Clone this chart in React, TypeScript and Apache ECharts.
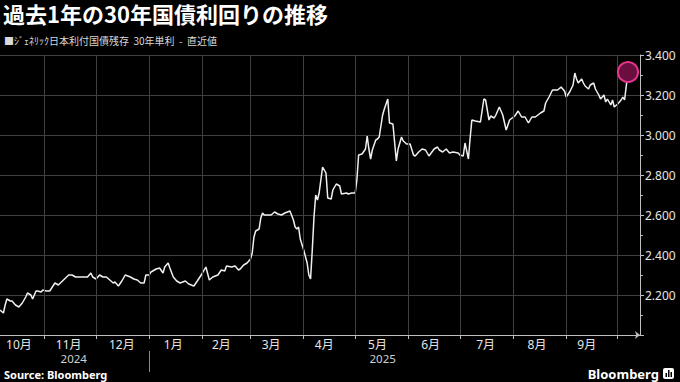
import React, { useEffect, useRef } from 'react';
import * as echarts from 'echarts';

const TITLE = '過去1年の30年国債利回りの推移';
const SUBTITLE = '■ｼﾞｪﾈﾘｯｸ日本利付国債残存  30年単利  -  直近値';
const SOURCE = 'Source: Bloomberg';

const dates = [
  '2024-10-06','2024-10-08','2024-10-09','2024-10-10','2024-10-12','2024-10-13','2024-10-15','2024-10-17','2024-10-19','2024-10-21',
  '2024-10-22','2024-10-24','2024-10-25','2024-10-27','2024-10-28','2024-10-30','2024-10-31','2024-11-02','2024-11-04','2024-11-07',
  '2024-11-09','2024-11-12','2024-11-15','2024-11-17','2024-11-19','2024-11-22','2024-11-25','2024-11-26','2024-11-28','2024-11-29',
  '2024-12-01','2024-12-03','2024-12-05','2024-12-07','2024-12-09','2024-12-11','2024-12-12','2024-12-14','2024-12-16','2024-12-18',
  '2024-12-21','2024-12-23','2024-12-25','2024-12-27','2024-12-29','2024-12-30','2025-01-01','2025-01-02','2025-01-05','2025-01-07',
  '2025-01-09','2025-01-10','2025-01-12','2025-01-13','2025-01-15','2025-01-17','2025-01-19','2025-01-22','2025-01-24','2025-01-27',
  '2025-01-29','2025-02-01','2025-02-03','2025-02-05','2025-02-07','2025-02-10','2025-02-12','2025-02-14','2025-02-15','2025-02-18',
  '2025-02-20','2025-02-22','2025-02-23','2025-02-25','2025-02-27','2025-03-01','2025-03-02','2025-03-03','2025-03-04','2025-03-06',
  '2025-03-07','2025-03-08','2025-03-09','2025-03-11','2025-03-13','2025-03-15','2025-03-17','2025-03-19','2025-03-21','2025-03-24',
  '2025-03-26','2025-03-27','2025-03-28','2025-03-29','2025-03-30','2025-04-01','2025-04-03','2025-04-04','2025-04-05','2025-04-06',
  '2025-04-07','2025-04-08','2025-04-09','2025-04-10','2025-04-12','2025-04-14','2025-04-15','2025-04-17','2025-04-18','2025-04-20',
  '2025-04-22','2025-04-23','2025-04-26','2025-04-27','2025-04-29','2025-05-01','2025-05-02','2025-05-03','2025-05-05','2025-05-07',
  '2025-05-08','2025-05-09','2025-05-10','2025-05-11','2025-05-13','2025-05-14','2025-05-15','2025-05-17','2025-05-18','2025-05-20',
  '2025-05-21','2025-05-23','2025-05-25','2025-05-26','2025-05-28','2025-05-29','2025-05-31','2025-06-02','2025-06-04','2025-06-05',
  '2025-06-07','2025-06-09','2025-06-11','2025-06-13','2025-06-16','2025-06-18','2025-06-19','2025-06-21','2025-06-23','2025-06-25',
  '2025-06-27','2025-06-30','2025-07-01','2025-07-03','2025-07-04','2025-07-06','2025-07-07','2025-07-08','2025-07-10','2025-07-13',
  '2025-07-15','2025-07-16','2025-07-17','2025-07-18','2025-07-19','2025-07-21','2025-07-22','2025-07-24','2025-07-26','2025-07-28',
  '2025-07-30','2025-08-02','2025-08-04','2025-08-06','2025-08-08','2025-08-10','2025-08-12','2025-08-14','2025-08-17','2025-08-19',
  '2025-08-20','2025-08-22','2025-08-24','2025-08-27','2025-08-29','2025-08-31','2025-09-01','2025-09-03','2025-09-05','2025-09-06',
  '2025-09-07','2025-09-08','2025-09-10','2025-09-11','2025-09-12','2025-09-14','2025-09-15','2025-09-17','2025-09-18','2025-09-20',
  '2025-09-21','2025-09-23','2025-09-24','2025-09-25','2025-09-27','2025-09-28','2025-09-29','2025-10-01','2025-10-03','2025-10-04',
  '2025-10-05','2025-10-07'
];

const yields = [
  2.125,2.11,2.15,2.18,2.17,2.17,2.15,2.14,2.16,2.19,
  2.21,2.20,2.18,2.22,2.22,2.215,2.225,2.22,2.22,2.26,
  2.25,2.275,2.30,2.30,2.29,2.29,2.29,2.29,2.31,2.29,
  2.28,2.30,2.29,2.29,2.275,2.26,2.265,2.245,2.27,2.30,
  2.29,2.28,2.275,2.26,2.26,2.30,2.30,2.315,2.33,2.335,
  2.31,2.34,2.36,2.335,2.29,2.27,2.26,2.27,2.255,2.245,
  2.27,2.31,2.34,2.275,2.29,2.30,2.325,2.32,2.345,2.34,
  2.345,2.325,2.33,2.35,2.36,2.38,2.41,2.49,2.52,2.53,
  2.585,2.61,2.60,2.60,2.60,2.615,2.605,2.60,2.61,2.62,
  2.575,2.54,2.53,2.54,2.48,2.425,2.36,2.30,2.28,2.425,
  2.59,2.70,2.675,2.71,2.84,2.81,2.685,2.68,2.725,2.755,
  2.745,2.705,2.71,2.705,2.71,2.71,2.775,2.90,2.905,2.93,
  2.995,2.93,2.88,2.925,2.975,2.98,2.99,3.10,3.13,3.18,
  3.06,3.055,2.87,2.93,2.99,2.97,2.955,2.955,2.90,2.895,
  2.915,2.93,2.925,2.895,2.93,2.94,2.925,2.915,2.93,2.91,
  2.915,2.91,2.90,2.895,2.96,2.88,2.985,3.075,3.07,3.065,
  3.18,3.175,3.125,3.075,3.095,3.085,3.10,3.14,3.10,3.025,
  3.075,3.095,3.12,3.09,3.09,3.06,3.09,3.09,3.11,3.12,
  3.16,3.19,3.225,3.225,3.24,3.22,3.19,3.215,3.25,3.31,
  3.28,3.26,3.28,3.26,3.245,3.23,3.25,3.26,3.23,3.20,
  3.18,3.20,3.165,3.18,3.15,3.175,3.14,3.155,3.175,3.19,
  3.175,3.315
];

const axisStart = '2024-10-06';
const axisEnd = '2025-10-14';
const monthTickDates = ['2024-11-01','2024-12-01','2025-01-01','2025-02-01','2025-03-01','2025-04-01','2025-05-01','2025-06-01','2025-07-01','2025-08-01','2025-09-01','2025-10-01'];
const monthLabels = ['10月','11月','12月','1月','2月','3月','4月','5月','6月','7月','8月','9月'];
const monthLabelDates = ['2024-10-17','2024-11-15','2024-12-16','2025-01-15','2025-02-12','2025-03-13','2025-04-13','2025-05-14','2025-06-14','2025-07-16','2025-08-15','2025-09-13'];
const yearLabels = ['2024','2025'];
const yearLabelDates = ['2024-11-18','2025-05-17'];
const yearBreakDates = ['2025-01-01'];
const yMin = 2.0;
const yMax = 3.4;
const yStep = 0.2;

const CJK = "'Noto Sans CJK JP', sans-serif";
const NUM = "'Noto Sans', 'Noto Sans CJK JP', sans-serif";
const GRID_COLOR = '#404040';

function ts(s: string): number {
  const [y, m, d] = s.split('-').map(Number);
  return Date.UTC(y, m - 1, d);
}

export default function App() {
  const ref = useRef<HTMLDivElement>(null);
  useEffect(() => {
    document.body.style.margin = '0';
    document.body.style.background = '#000';
    if (!ref.current) return;
    const chart = echarts.init(ref.current, undefined, { renderer: 'svg' });
    const data = dates.map((d, i) => [ts(d), yields[i]]);
    const last = data[data.length - 1];
    const monthTickTs = monthTickDates.map(ts);
    const monthLabelTs = monthLabelDates.map(ts);
    const yearLabelTs = yearLabelDates.map(ts);
    const monthFmt = (v: number, i: number) => {
      const k = monthLabelTs.indexOf(v);
      return monthLabels[k >= 0 ? k : i] ?? '';
    };
    const yearFmt = (v: number, i: number) => {
      const k = yearLabelTs.indexOf(v);
      return yearLabels[k >= 0 ? k : i] ?? '';
    };
    chart.setOption({
      backgroundColor: '#000',
      animation: false,
      textStyle: { fontFamily: NUM },
      title: [
        { text: TITLE, left: 3, top: 2, padding: 0, textStyle: { color: '#ffffff', fontSize: 22, fontWeight: 'bold', fontFamily: CJK, lineHeight: 22 } },
        { text: SUBTITLE, left: 4, top: 35, padding: 0, textStyle: { color: '#d9d9d9', fontSize: 10, fontWeight: 'normal', fontFamily: CJK } },
        { text: SOURCE, left: 4, top: 369, padding: 0, textStyle: { color: '#ffffff', fontSize: 11, fontWeight: 'bold', fontFamily: NUM } },
        { text: 'Bloomberg', right: 21, top: 367, padding: 0, textStyle: { color: '#ffffff', fontSize: 13, fontWeight: 'bold', fontFamily: NUM } }
      ],
      grid: { left: 0, right: 40, top: 55, bottom: 47, containLabel: false, show: false },
      xAxis: [
        {
          type: 'value', min: ts(axisStart), max: ts(axisEnd),
          axisLine: { show: true, lineStyle: { color: '#bfbfbf', width: 1 }, symbol: ['none', 'arrow'], symbolSize: [6, 5] },
          axisTick: { show: true, customValues: monthTickTs, length: 4, lineStyle: { color: '#bfbfbf' } },
          axisLabel: { customValues: monthLabelTs, formatter: monthFmt, color: '#e6e6e6', fontSize: 12, margin: 3, fontFamily: NUM },
          splitLine: { show: false }
        },
        {
          type: 'value', min: ts(axisStart), max: ts(axisEnd), position: 'bottom', offset: 16,
          axisLine: { show: false },
          axisTick: { show: true, customValues: yearBreakDates.map(ts), length: 21, lineStyle: { color: '#8a8a8a' } },
          axisLabel: { customValues: yearLabelTs, formatter: yearFmt, color: '#d0d0d0', fontSize: 11.5, margin: 2, fontFamily: NUM },
          splitLine: { show: false }
        }
      ],
      yAxis: {
        type: 'value', position: 'right', min: yMin, max: yMax, interval: yStep,
        axisLine: { show: true, lineStyle: { color: '#bfbfbf', width: 1 } },
        axisTick: { show: true, length: 4, lineStyle: { color: '#bfbfbf' } },
        minorTick: { show: true, splitNumber: 2, length: 3, lineStyle: { color: '#bfbfbf' } },
        axisLabel: { formatter: (v: number) => (v <= yMin + 1e-6 ? '' : v.toFixed(3)), color: '#e6e6e6', fontSize: 12, margin: 5, fontFamily: NUM },
        splitLine: { show: true, lineStyle: { color: GRID_COLOR, width: 1, type: 'solid' } }
      },
      series: [
        {
          type: 'line', xAxisIndex: 0, data: [], z: 1, silent: true,
          markLine: {
            silent: true, symbol: ['none', 'none'], label: { show: false }, animation: false,
            lineStyle: { color: GRID_COLOR, width: 1, type: 'solid' },
            data: monthTickTs.map((t) => ({ xAxis: t }))
          }
        },
        { type: 'line', xAxisIndex: 0, data, showSymbol: false, symbol: 'none', lineStyle: { color: '#f0f0f0', width: 1.5 }, z: 3 },
        { type: 'scatter', xAxisIndex: 0, data: [last], symbolSize: 20, itemStyle: { color: '#6a0e40', borderColor: '#e5368e', borderWidth: 2, opacity: 1 }, z: 5 }
      ],
      graphic: [
        {
          type: 'group', right: 6, top: 368,
          children: [
            { type: 'rect', shape: { x: 0, y: 0, width: 11, height: 11, r: 2 }, style: { fill: '#ffffff' } },
            { type: 'rect', shape: { x: 2.5, y: 5, width: 1.5, height: 4 }, style: { fill: '#000' } },
            { type: 'rect', shape: { x: 5, y: 2, width: 1.5, height: 7 }, style: { fill: '#000' } },
            { type: 'rect', shape: { x: 7.5, y: 4, width: 1.5, height: 5 }, style: { fill: '#000' } }
          ]
        }
      ]
    });
    return () => chart.dispose();
  }, []);
  return <div ref={ref} style={{ position: 'absolute', left: 0, top: 0, width: 680, height: 382, background: '#000' }} />;
}
